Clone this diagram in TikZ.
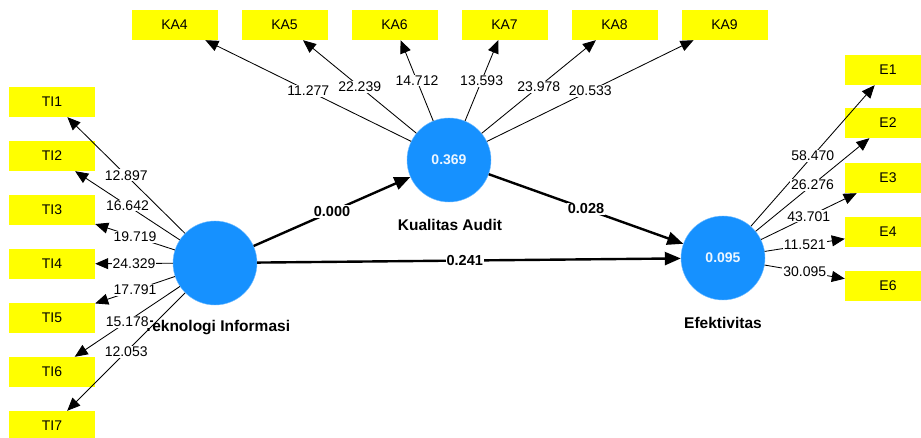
\documentclass[tikz,border=0pt]{standalone}
\usepackage{fontspec}
\setmainfont{Liberation Sans}
\usetikzlibrary{arrows.meta}

\definecolor{lvblue}{RGB}{22,145,255}
\definecolor{mvyellow}{RGB}{255,255,0}

\tikzset{
  latent/.style={circle, fill=lvblue, draw=lvblue!60!white, minimum size=84pt, inner sep=0pt, text=white!92!lvblue, font=\bfseries\fontsize{14}{16}\selectfont},
  indic/.style={rectangle, fill=mvyellow, minimum width=86pt, minimum height=30pt, inner sep=0pt, font=\fontsize{14}{16}\selectfont},
  lvname/.style={font=\bfseries\fontsize{15.5}{18}\selectfont},
  outer/.style={-{Triangle[length=13pt,width=11pt]}, line width=0.85pt},
  inner/.style={-{Triangle[length=16pt,width=13pt]}, line width=2.4pt},
  load/.style={fill=white, inner sep=1pt, font=\fontsize{14}{16}\selectfont},
  coef/.style={fill=white, inner sep=1pt, font=\bfseries\fontsize{14.5}{17}\selectfont},
}

\begin{document}
\begin{tikzpicture}[x=1pt,y=-1pt]
\useasboundingbox[fill=white] (0,0) rectangle (921,438);

% indicators
\node[indic] (TI1) at (52,102) {TI1};
\node[indic] (TI2) at (52,156) {TI2};
\node[indic] (TI3) at (52,210) {TI3};
\node[indic] (TI4) at (52,264) {TI4};
\node[indic] (TI5) at (52,318) {TI5};
\node[indic] (TI6) at (52,372) {TI6};
\node[indic] (TI7) at (52,426) {TI7};

\node[indic] (KA4) at (174.5,25) {KA4};
\node[indic] (KA5) at (284.5,25) {KA5};
\node[indic] (KA6) at (394.5,25) {KA6};
\node[indic] (KA7) at (504.5,25) {KA7};
\node[indic] (KA8) at (614.5,25) {KA8};
\node[indic] (KA9) at (724.5,25) {KA9};

\node[indic] (E1) at (888,70) {E1};
\node[indic] (E2) at (888,123) {E2};
\node[indic] (E3) at (888,178) {E3};
\node[indic] (E4) at (888,232) {E4};
\node[indic] (E6) at (888,286) {E6};

% latent variables
\node[latent] (TI) at (215,263) {};
\node[latent] (KA) at (449,160) {0.369};
\node[latent] (EF) at (723,258) {0.095};

\node[lvname] (TIname) at (217,328) {Teknologi Informasi};
\node[lvname] (KAname) at (450,225) {Kualitas Audit};
\node[lvname] (EFname) at (723,323) {Efektivitas};

% outer loadings
\draw[outer] (TI) -- node[load] {12.897} (TI1);
\draw[outer] (TI) -- node[load] {16.642} (TI2);
\draw[outer] (TI) -- node[load] {19.719} (TI3);
\draw[outer] (TI) -- node[load] {24.329} (TI4);
\draw[outer] (TI) -- node[load] {17.791} (TI5);
\draw[outer] (TI) -- node[load] {15.178} (TI6);
\draw[outer] (TI) -- node[load] {12.053} (TI7);

\draw[outer] (KA) -- node[load] {11.277} (KA4);
\draw[outer] (KA) -- node[load] {22.239} (KA5);
\draw[outer] (KA) -- node[load] {14.712} (KA6);
\draw[outer] (KA) -- node[load] {13.593} (KA7);
\draw[outer] (KA) -- node[load] {23.978} (KA8);
\draw[outer] (KA) -- node[load] {20.533} (KA9);

\draw[outer] (EF) -- node[load] {58.470} (E1);
\draw[outer] (EF) -- node[load] {26.276} (E2);
\draw[outer] (EF) -- node[load] {43.701} (E3);
\draw[outer] (EF) -- node[load] {11.521} (E4);
\draw[outer] (EF) -- node[load] {30.095} (E6);

% inner model
\draw[inner] (TI) -- node[coef] {0.000} (KA);
\draw[inner] (KA) -- node[coef] {0.028} (EF);
\draw[inner] (TI) -- node[coef, pos=0.49] {0.241} (EF);
\end{tikzpicture}
\end{document}
